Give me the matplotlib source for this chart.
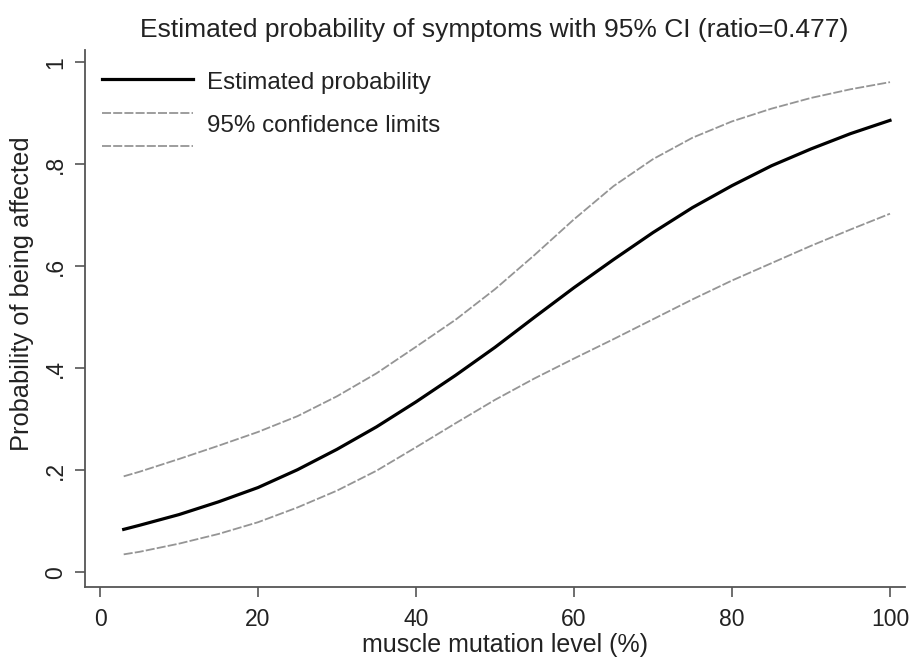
import matplotlib
matplotlib.use("Agg")
import matplotlib.pyplot as plt
from matplotlib.lines import Line2D

# Data
level = [3, 5, 10, 15, 20, 25, 30, 35, 40, 45, 50, 55, 60, 65, 70, 75, 80, 85, 90, 95, 100]
est = [0.084, 0.092, 0.113, 0.138, 0.166, 0.201, 0.241, 0.285, 0.334, 0.386, 0.441,
       0.500, 0.558, 0.613, 0.666, 0.715, 0.758, 0.797, 0.830, 0.860, 0.886]
upper = [0.188, 0.197, 0.222, 0.248, 0.275, 0.306, 0.345, 0.390, 0.442, 0.495, 0.555,
         0.622, 0.692, 0.757, 0.810, 0.852, 0.884, 0.909, 0.930, 0.947, 0.961]
lower = [0.035, 0.040, 0.056, 0.075, 0.098, 0.127, 0.160, 0.199, 0.245, 0.292, 0.338,
         0.380, 0.419, 0.457, 0.496, 0.535, 0.572, 0.606, 0.640, 0.672, 0.703]

xticks = [0, 20, 40, 60, 80, 100]
yticks = [0, 0.2, 0.4, 0.6, 0.8, 1.0]
yticklabels = ["0", ".2", ".4", ".6", ".8", "1"]

title = "Estimated probability of symptoms with 95% CI (ratio=0.477)"
xlabel = "muscle mutation level (%)"
ylabel = "Probability of being affected"
legend_labels = ["Estimated probability", "95% confidence limits"]

plt.rcParams['font.family'] = ['Liberation Sans', 'DejaVu Sans']
TXT = "#222222"

fig = plt.figure(figsize=(9.12, 6.6), dpi=100)
ax = fig.add_axes([85/912, 1-587/660, (905-85)/912, (587-50)/660])

ci_style = dict(color="#959595", lw=1.3, linestyle=(0, (5, 1.2)))
ax.plot(level, upper, **ci_style)
ax.plot(level, lower, **ci_style)
ax.plot(level, est, color="black", lw=2.3)

ax.set_xlim(-1.9, 101.9)
ax.set_ylim(-0.029, 1.024)

for s in ["top", "right"]:
    ax.spines[s].set_visible(False)
for s in ["left", "bottom"]:
    ax.spines[s].set_color("#555555")
    ax.spines[s].set_linewidth(1.3)

ax.set_xticks(xticks)
ax.set_xticklabels([str(v) for v in xticks])
ax.set_yticks(yticks)
ax.set_yticklabels(yticklabels, rotation=90, va="center")
ax.tick_params(axis="x", length=7, width=1.2, color="#555555", labelsize=16.5,
               pad=8, labelcolor=TXT)
ax.tick_params(axis="y", length=7, width=1.2, color="#555555", labelsize=16.5,
               pad=6, labelcolor=TXT)

fig.text(505/912, 1-645/660, xlabel, fontsize=18, ha="center", va="center", color=TXT)
fig.text(22/912, 1-294/660, ylabel, fontsize=18.3, ha="center", va="center",
         rotation=90, color=TXT)
fig.text(494/912, 1-30/660, title, fontsize=19, ha="center", va="center", color=TXT)

# Legend (manual, Stata-like)
def fx(px):
    return (px - 85) / (905 - 85)

def fy(py):
    return (587 - py) / (587 - 50)

ax.add_line(Line2D([fx(102), fx(193)], [fy(79), fy(79)], transform=ax.transAxes,
                   color="black", lw=2.3))
ax.add_line(Line2D([fx(102), fx(193)], [fy(113), fy(113)], transform=ax.transAxes,
                   **ci_style))
ax.add_line(Line2D([fx(102), fx(193)], [fy(146), fy(146)], transform=ax.transAxes,
                   **ci_style))
ax.text(fx(207), fy(83), legend_labels[0], transform=ax.transAxes, fontsize=17.4,
        va="center", ha="left", color=TXT)
ax.text(fx(207), fy(126), legend_labels[1], transform=ax.transAxes, fontsize=17.4,
        va="center", ha="left", color=TXT)

fig.savefig("out.png", dpi=100)
